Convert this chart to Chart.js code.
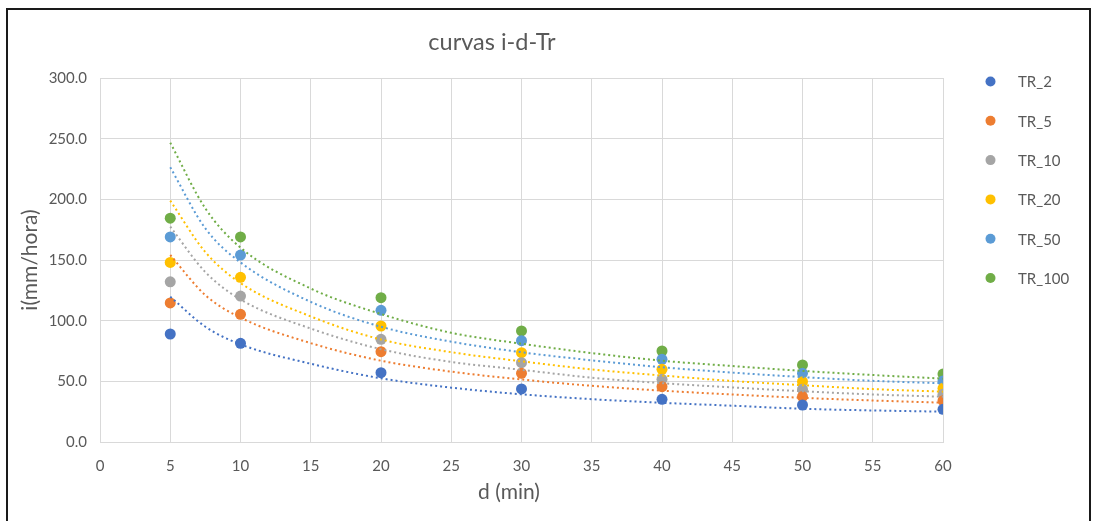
<!DOCTYPE html>
<html lang="es">
<head>
<meta charset="utf-8">
<title>curvas i-d-Tr</title>
<script src="https://cdn.jsdelivr.net/npm/chart.js@4/dist/chart.umd.min.js"></script>
<style>
  html, body { margin: 0; padding: 0; background: #fff; }
  #frame {
    position: absolute; left: 6px; top: 8px; width: 1085px; height: 540px;
    border: 2px solid #1a1a1a; border-bottom: none; box-sizing: border-box;
  }
  #wrap { position: absolute; left: 0; top: 0; width: 1093px; height: 521px; }
</style>
</head>
<body>
<div id="frame"></div>
<div id="wrap"><canvas id="chart" width="1093" height="521"></canvas></div>
<script>
// Duración d (min) de los ensayos
const durations = [5, 10, 20, 30, 40, 50, 60];

// Intensidades i (mm/hora) por periodo de retorno
const tr2   = [89.0, 81.3, 57.1, 43.7, 35.2, 30.5, 26.9];
const tr5   = [114.6, 105.2, 74.4, 56.6, 45.6, 37.4, 34.1];
const tr10  = [132.0, 120.3, 84.6, 65.4, 51.7, 43.4, 39.3];
const tr20  = [148.0, 135.7, 95.6, 73.6, 59.9, 49.7, 44.2];
const tr50  = [169.0, 154.1, 108.5, 83.5, 68.1, 56.6, 50.3];
const tr100 = [184.5, 169.0, 118.9, 91.5, 75.0, 63.5, 56.0];

// Líneas de tendencia (potencial), valores a lo largo de d
const trendD   = [5, 7.5, 10, 15, 20, 25, 30, 35, 40, 45, 50, 55, 60];
const trend2   = [119.8, 95.0, 80.5, 64.5, 52.5, 44.8, 39.3, 35.3, 32.3, 29.9, 27.4, 26.0, 25.0];
const trend5   = [154.1, 121.0, 102.5, 81.5, 67.0, 58.0, 51.5, 46.3, 42.3, 39.2, 36.4, 34.2, 32.4];
const trend10  = [177.5, 140.0, 117.5, 93.5, 76.5, 66.0, 59.5, 53.0, 48.5, 45.0, 41.8, 39.2, 37.3];
const trend20  = [198.9, 156.5, 131.0, 103.5, 84.5, 74.0, 66.5, 59.8, 54.8, 50.3, 46.8, 43.6, 41.5];
const trend50  = [226.4, 176.0, 148.0, 115.5, 95.0, 82.7, 74.0, 67.3, 61.6, 57.2, 53.5, 50.4, 48.4];
const trend100 = [246.7, 192.5, 160.2, 126.5, 105.5, 90.0, 81.0, 73.3, 67.0, 62.6, 58.6, 55.2, 52.2];

// Etiquetas de los ejes
const seriesNames = ['TR_2', 'TR_5', 'TR_10', 'TR_20', 'TR_50', 'TR_100'];
const xTicks = [0, 5, 10, 15, 20, 25, 30, 35, 40, 45, 50, 55, 60];
const yTicks = [0, 50, 100, 150, 200, 250, 300];
const xAxisTitle = 'd (min)';

const colors = ['#4472C4', '#ED7D31', '#A5A5A5', '#FFC000', '#5B9BD5', '#70AD47'];
const pointSeries = [tr2, tr5, tr10, tr20, tr50, tr100];
const trendSeries = [trend2, trend5, trend10, trend20, trend50, trend100];

const textColor = '#595959';
const gridColor = '#d9d9d9';

const datasets = [];
pointSeries.forEach((vals, i) => {
  datasets.push({
    type: 'scatter',
    label: seriesNames[i],
    data: durations.map((d, k) => ({ x: d, y: vals[k] })),
    backgroundColor: colors[i],
    borderColor: colors[i],
    borderWidth: 0,
    pointRadius: 5.5,
    pointHoverRadius: 5.5,
    showLine: false,
    order: 1,
    isPoints: true
  });
});
trendSeries.forEach((vals, i) => {
  datasets.push({
    type: 'line',
    label: 'Potencial (' + seriesNames[i] + ')',
    data: trendD.map((d, k) => ({ x: d, y: vals[k] })),
    borderColor: colors[i],
    backgroundColor: colors[i],
    borderWidth: 2,
    borderDash: [2, 3],
    pointRadius: 0,
    pointHoverRadius: 0,
    fill: false,
    cubicInterpolationMode: 'monotone',
    showLine: true,
    order: 0
  });
});

// Leyenda a la derecha (solo las series de puntos) y título del eje d
const sideText = {
  id: 'sideText',
  afterDraw(chart) {
    const ctx = chart.ctx;
    ctx.save();
    ctx.font = '15px Lato, "Open Sans", sans-serif';
    ctx.textBaseline = 'middle';
    ctx.textAlign = 'left';
    let row = 0;
    chart.data.datasets.forEach(ds => {
      if (!ds.isPoints) return;
      const y = 81.5 + row * 39.3;
      ctx.fillStyle = ds.backgroundColor;
      ctx.beginPath();
      ctx.arc(990.5, y, 5, 0, Math.PI * 2);
      ctx.fill();
      ctx.fillStyle = textColor;
      ctx.fillText(ds.label, 1018, y + 1);
      row++;
    });
    ctx.font = '21px Lato, "Open Sans", sans-serif';
    ctx.textAlign = 'center';
    ctx.fillStyle = textColor;
    ctx.fillText(xAxisTitle, 509, 492);
    ctx.restore();
  }
};

Chart.defaults.font.family = 'Lato, "Open Sans", sans-serif';
Chart.defaults.color = textColor;

new Chart(document.getElementById('chart'), {
  type: 'scatter',
  data: { datasets },
  options: {
    responsive: false,
    animation: false,
    events: [],
    layout: { padding: { left: 41, right: 150, top: 0, bottom: 9 } },
    plugins: {
      legend: { display: false },
      tooltip: { enabled: false },
      title: {
        display: true,
        text: 'curvas i-d-Tr',
        color: textColor,
        font: { size: 23.5, weight: 'normal' },
        padding: { top: 27.9, bottom: 21.9 }
      }
    },
    scales: {
      x: {
        type: 'linear',
        min: 0,
        max: 60,
        afterBuildTicks: s => { s.ticks = xTicks.map(v => ({ value: v })); },
        afterFit: s => { s.height = 70; },
        ticks: { padding: 15, color: textColor, font: { size: 15 } },
        grid: { color: gridColor, drawTicks: false, tickLength: 0 },
        border: { color: gridColor },
        title: { display: false }
      },
      y: {
        type: 'linear',
        min: 0,
        max: 300,
        afterBuildTicks: s => { s.ticks = yTicks.map(v => ({ value: v })); },
        afterFit: s => { s.width = 59; },
        ticks: {
          padding: 13, color: textColor, font: { size: 15 },
          callback: v => Number(v).toFixed(1)
        },
        grid: { color: gridColor, drawTicks: false, tickLength: 0 },
        border: { color: gridColor },
        title: {
          display: true, text: 'i(mm/hora)', color: textColor,
          font: { size: 21 }, padding: { top: -23.6, bottom: 0 }
        }
      }
    }
  },
  plugins: [sideText]
});
</script>
</body>
</html>
